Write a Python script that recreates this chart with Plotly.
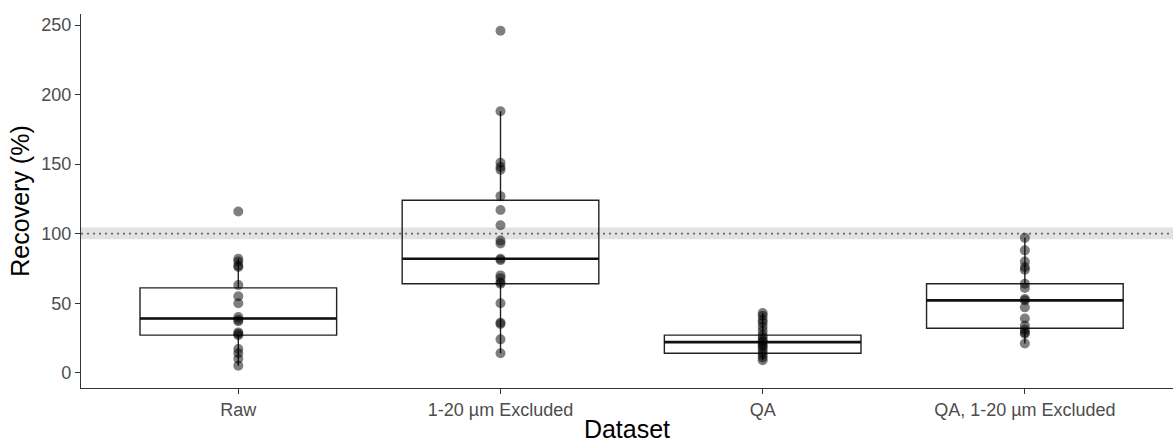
import plotly.graph_objects as go

categories = ["Raw", "1-20 µm Excluded", "QA", "QA, 1-20 µm Excluded"]

raw_vals = [116, 82, 80, 77, 76, 63, 55, 50, 40, 38, 37, 29, 28, 27, 17, 14, 10, 5]
excl_vals = [246, 188, 151, 148, 146, 127, 117, 106, 95, 93, 82, 81, 70, 68, 65, 64, 50, 36, 35, 24, 14]
qa_vals = [43, 41, 38, 36, 33, 30, 27, 25, 23, 22, 20, 19, 17, 15, 13, 11, 9]
qa_excl_vals = [97, 88, 80, 76, 74, 64, 61, 53, 52, 47, 39, 34, 31, 29, 28, 21]

box_q1 = [27, 64, 14, 32]
box_median = [39, 82, 22, 52]
box_q3 = [61, 124, 27, 64]
box_lower = [5, 14, 9, 21]
box_upper = [82, 188, 43, 97]

ref_value = 100
ref_band = [96, 104.5]

BOX_W = 0.75
xpos = list(range(len(categories)))

fig = go.Figure()

fig.add_shape(type="rect", xref="paper", yref="y", x0=0, x1=1,
              y0=ref_band[0], y1=ref_band[1], fillcolor="#e2e2e2",
              line=dict(width=0), layer="below")
fig.add_shape(type="line", xref="paper", yref="y", x0=0, x1=1,
              y0=ref_value, y1=ref_value,
              line=dict(color="#666666", width=1.8, dash="2px,4px"), layer="below")

fig.add_trace(go.Box(
    x=xpos, q1=box_q1, median=box_median, q3=box_q3,
    lowerfence=box_lower, upperfence=box_upper,
    width=BOX_W, whiskerwidth=0, boxpoints=False,
    fillcolor="rgba(0,0,0,0)", line=dict(color="#222222", width=1.4),
    showlegend=False, hoverinfo="skip"))

# thicker median lines
for i, m in enumerate(box_median):
    fig.add_trace(go.Scatter(
        x=[i - BOX_W / 2, i + BOX_W / 2], y=[m, m], mode="lines",
        line=dict(color="#111111", width=2.6), showlegend=False, hoverinfo="skip"))

for i, vals in enumerate([raw_vals, excl_vals, qa_vals, qa_excl_vals]):
    fig.add_trace(go.Scatter(
        x=[i] * len(vals), y=vals, mode="markers",
        marker=dict(color="rgba(0,0,0,0.5)", size=10, line=dict(width=0)),
        showlegend=False))

fig.update_layout(
    width=1173, height=443,
    margin=dict(l=81, r=0, t=14, b=55),
    plot_bgcolor="white", paper_bgcolor="white",
    font=dict(family="Liberation Sans, Arial, sans-serif", color="#000000"),
)
fig.update_xaxes(
    range=[-0.6, 3.565], tickvals=xpos, ticktext=categories,
    showgrid=False, zeroline=False, showline=True, linecolor="#333333", linewidth=1.2,
    ticks="outside", ticklen=5, tickcolor="#333333", tickwidth=1.2,
    tickfont=dict(size=18, color="#4d4d4d"),
    title=dict(text="Dataset", font=dict(size=25, color="#000000"), standoff=2),
)
fig.update_yaxes(
    range=[-11, 258], tickvals=[0, 50, 100, 150, 200, 250],
    showgrid=False, zeroline=False, showline=True, linecolor="#333333", linewidth=1.2,
    ticks="outside", ticklen=5, tickcolor="#333333", tickwidth=1.2,
    tickfont=dict(size=18, color="#4d4d4d"),
    title=dict(text="Recovery (%)", font=dict(size=25, color="#000000"), standoff=4),
)

fig.write_html("out.html")
